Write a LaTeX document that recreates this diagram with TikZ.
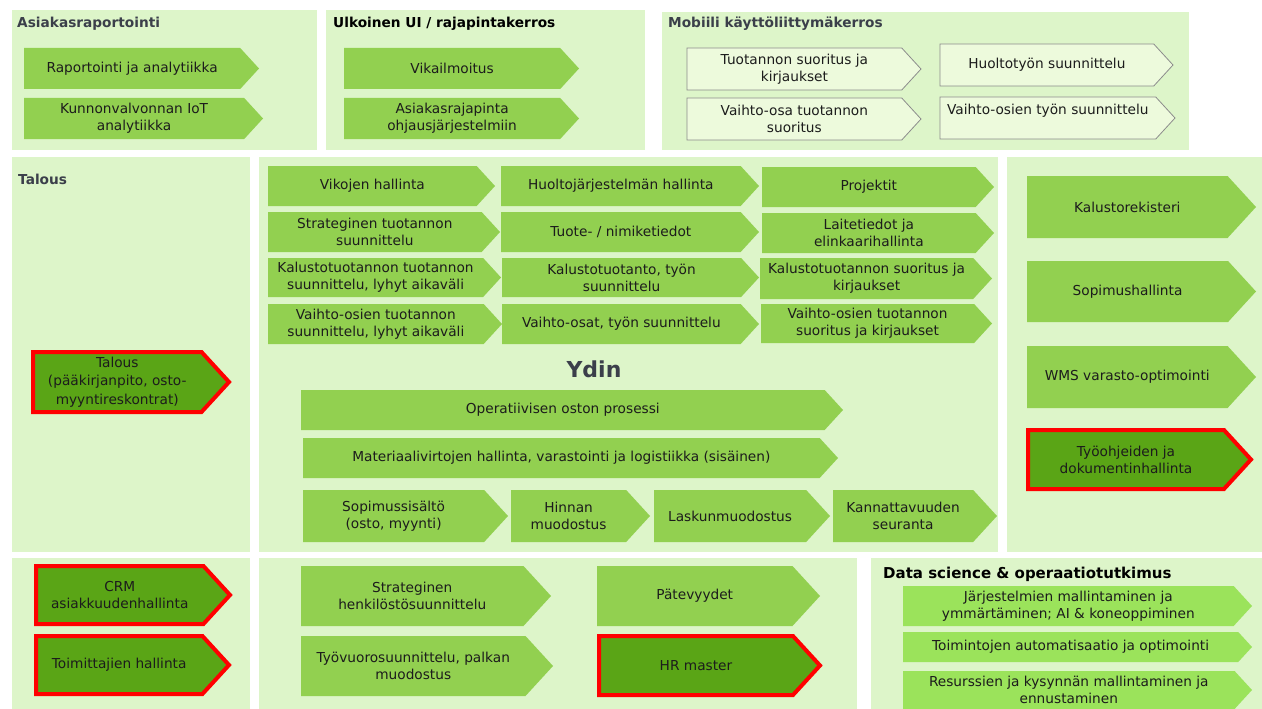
\documentclass[tikz,border=0pt]{standalone}
\usepackage{fontspec}
\setmainfont{DejaVu Sans}
\usetikzlibrary{shapes.symbols}

\definecolor{panelgreen}{HTML}{DDF5C9}
\definecolor{boxgreen}{HTML}{92D050}
\definecolor{darkgreen}{HTML}{5AA516}
\definecolor{dsgreen}{HTML}{9BE35B}
\definecolor{mobilefill}{HTML}{EDFADC}
\definecolor{mobileline}{HTML}{8C8C8C}
\definecolor{keyred}{HTML}{FF0000}
\definecolor{slate}{HTML}{3B3F4A}
\definecolor{boxtext}{HTML}{1C1C1C}

\begin{document}
\begin{tikzpicture}[x=1pt,y=-1pt,
    box/.style={shape=signal,signal to=east,signal from=nowhere,signal pointer angle=95,
      inner sep=0pt,outer sep=0pt,anchor=west,align=center,text=boxtext,
      font=\fontsize{13.7}{17}\selectfont},
    wh/.style 2 args={minimum width=#1pt,minimum height=#2pt},
    main box/.style={box,fill=boxgreen},
    key box/.style={box,fill=darkgreen,draw=keyred,line width=4pt,miter limit=2},
    mobile box/.style={box,fill=mobilefill,draw=mobileline,line width=0.8pt},
    ds box/.style={box,fill=dsgreen},
    panel/.style={fill=panelgreen},
    title/.style={anchor=base west,inner sep=0pt,text=slate,
      font=\fontsize{13.7}{16}\selectfont\bfseries}]

  \clip (0,0) rectangle (1262,709);

  % panels
  \fill[panel] (12,10) rectangle (317,150);
  \fill[panel] (326,10) rectangle (645,150);
  \fill[panel] (662,12) rectangle (1189,150);
  \fill[panel] (12,157) rectangle (250,552);
  \fill[panel] (259,157) rectangle (998,552);
  \fill[panel] (1007,157) rectangle (1262,552);
  \fill[panel] (12,558) rectangle (250,709);
  \fill[panel] (259,558) rectangle (857,709);
  \fill[panel] (871,558) rectangle (1262,709);

  \node[title] (asrt) at (17,28) {Asiakasraportointi};
  \node[title,text=black] (ulkt) at (333,28) {Ulkoinen UI / rajapintakerros};
  \node[title] (mobt) at (668,28) {Mobiili käyttöliittymäkerros};
  \node[title] (talt) at (18,184) {Talous};
  \node[title,text=black,font=\fontsize{15}{17}\selectfont\bfseries] (dst) at (883,578) {Data science \& operaatiotutkimus};

  % top layers
  \node[main box,wh={235}{41}] (rap) at (24,68.5) {Raportointi ja analytiikka};
  \node[main box,wh={239}{41}] (iot) at (24,118.5) {Kunnonvalvonnan IoT\\analytiikka};
  \node[main box,wh={235}{41}] (vik) at (344,68.5) {Vikailmoitus};
  \node[main box,wh={235}{41}] (asr) at (344,118.5) {Asiakasrajapinta\\ohjausjärjestelmiin};
  \node[mobile box,wh={234}{42}] (tuo) at (687,69) {Tuotannon suoritus ja\\kirjaukset};
  \node[mobile box,wh={233}{42}] (hts) at (940,65) {Huoltotyön suunnittelu};
  \node[mobile box,wh={234}{42}] (vos) at (687,119) {Vaihto-osa tuotannon\\suoritus};
  \node[mobile box,wh={235}{42}] (vts) at (940,118) {Vaihto-osien työn suunnittelu\\\mbox{}};

  \node[key box,wh={196}{60},font=\fontsize{13.7}{18.5}\selectfont] (tal) at (33,382) {Talous\\(pääkirjanpito, osto-\\myyntireskontrat)};

  % Ydin
  \node[main box,wh={227}{40}] (vikoj) at (268,186) {Vikojen hallinta};
  \node[main box,wh={258}{40}] (huolj) at (501,186) {Huoltojärjestelmän hallinta};
  \node[main box,wh={232}{40}] (proj) at (762,187) {Projektit};
  \node[main box,wh={232}{40}] (strt) at (268,232) {Strateginen tuotannon\\suunnittelu};
  \node[main box,wh={258}{40}] (tuote) at (501,232) {Tuote- / nimiketiedot};
  \node[main box,wh={232}{40}] (lait) at (762,233) {Laitetiedot ja\\elinkaarihallinta};
  \node[main box,wh={233}{39}] (kalt) at (268,277.5) {Kalustotuotannon tuotannon\\suunnittelu, lyhyt aikaväli};
  \node[main box,wh={257}{39}] (kaltyo) at (502,277.5) {Kalustotuotanto, työn\\suunnittelu};
  \node[main box,wh={232}{41}] (kals) at (760,278.5) {Kalustotuotannon suoritus ja\\kirjaukset};
  \node[main box,wh={234}{40}] (vost) at (268,324) {Vaihto-osien tuotannon\\suunnittelu, lyhyt aikaväli};
  \node[main box,wh={257}{40}] (vosat) at (502,324) {Vaihto-osat, työn suunnittelu};
  \node[main box,wh={231}{39}] (voss) at (761,323.5) {Vaihto-osien tuotannon\\suoritus ja kirjaukset};

  \node[title,anchor=center,font=\fontsize{22}{26}\selectfont\bfseries] (ydin) at (594,369) {Ydin};

  \node[main box,wh={542}{40}] (oper) at (301,410) {Operatiivisen oston prosessi};
  \node[main box,wh={535}{40}] (mater) at (303,458) {Materiaalivirtojen hallinta, varastointi ja logistiikka (sisäinen)};
  \node[main box,wh={205}{52}] (sopi) at (303,516) {Sopimussisältö\\(osto, myynti)};
  \node[main box,wh={139}{52}] (hinn) at (511,516) {Hinnan\\muodostus};
  \node[main box,wh={176}{52}] (lasku) at (654,516) {Laskunmuodostus};
  \node[main box,wh={164}{52}] (kann) at (833,516) {Kannattavuuden\\seuranta};

  % right column
  \node[main box,wh={229}{62}] (kalr) at (1027,207) {Kalustorekisteri};
  \node[main box,wh={229}{61}] (soph) at (1027,291.5) {Sopimushallinta};
  \node[main box,wh={229}{62}] (wms) at (1027,377) {WMS varasto-optimointi};
  \node[key box,wh={223}{59}] (tyoo) at (1028,459.5) {Työohjeiden ja\\dokumentinhallinta};

  % bottom row
  \node[key box,wh={194}{58}] (crm) at (36,595) {CRM\\asiakkuudenhallinta};
  \node[key box,wh={193}{58}] (toim) at (36,665) {Toimittajien hallinta};
  \node[main box,wh={250}{60}] (strh) at (301,596) {Strateginen\\henkilöstösuunnittelu};
  \node[main box,wh={252}{60}] (tyov) at (301,666) {Työvuorosuunnittelu, palkan\\muodostus};
  \node[main box,wh={223}{60}] (pat) at (597,596) {Pätevyydet};
  \node[key box,wh={221}{59}] (hrm) at (599,665.5) {HR master};
  \node[ds box,wh={349}{40}] (jarj) at (903,606) {Järjestelmien mallintaminen ja\\ymmärtäminen; AI \& koneoppiminen};
  \node[ds box,wh={349}{30}] (toimi) at (903,647) {Toimintojen automatisaatio ja optimointi};
  \node[ds box,wh={349}{38}] (resu) at (903,690) {Resurssien ja kysynnän mallintaminen ja\\ennustaminen};

\end{tikzpicture}
\end{document}
